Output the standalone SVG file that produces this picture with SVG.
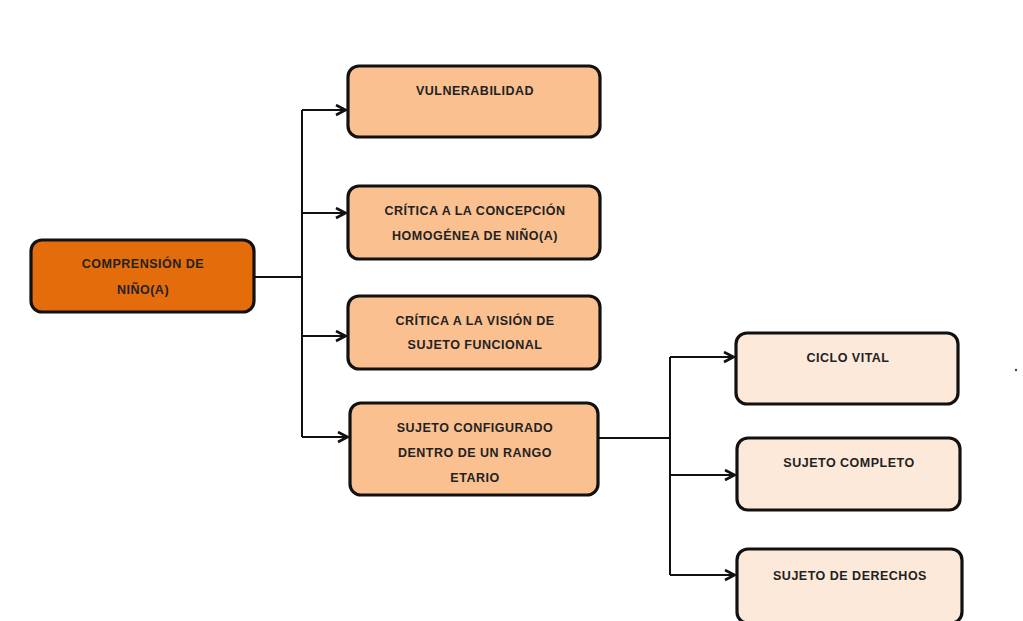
<svg xmlns="http://www.w3.org/2000/svg" width="1023" height="621" viewBox="0 0 1023 621">
  <style>
    .box { stroke: #111; stroke-width: 3.2; }
    .root { fill: #E46C0A; }
    .mid { fill: #FAC090; }
    .leaf { fill: #FDE9D9; }
    text { font-family: "Liberation Sans", Arial, sans-serif; font-weight: bold; font-size: 12.5px; letter-spacing: 0.5px; fill: #222; text-anchor: middle; }
    .conn { fill: none; stroke: #111; stroke-width: 2; }
  </style>
  <defs>
    <marker id="arrow" viewBox="0 0 13 13" refX="12" refY="6.5" markerWidth="13" markerHeight="13" markerUnits="userSpaceOnUse" orient="auto">
      <polyline points="2,1.5 11.5,6.5 2,11.5" fill="none" stroke="#111" stroke-width="2.6"/>
    </marker>
  </defs>
  <rect width="1023" height="621" fill="#fff"/>

  <g id="connectors">
    <path class="conn" d="M254,277 H302"/>
    <path class="conn" d="M302,110 V437"/>
    <path class="conn" d="M302,110 H346" marker-end="url(#arrow)"/>
    <path class="conn" d="M302,213 H346" marker-end="url(#arrow)"/>
    <path class="conn" d="M302,336 H346" marker-end="url(#arrow)"/>
    <path class="conn" d="M302,437 H348" marker-end="url(#arrow)"/>
    <path class="conn" d="M598,438 H670"/>
    <path class="conn" d="M670,357 V575"/>
    <path class="conn" d="M670,357 H734" marker-end="url(#arrow)"/>
    <path class="conn" d="M670,475 H735" marker-end="url(#arrow)"/>
    <path class="conn" d="M670,575 H735" marker-end="url(#arrow)"/>
  </g>

  <g id="root">
    <rect class="box root" x="31" y="240" width="223" height="72" rx="11"/>
    <text x="143" y="268">COMPRENSIÓN DE</text>
    <text x="143" y="294">NIÑO(A)</text>
  </g>

  <g id="vulnerabilidad">
    <rect class="box mid" x="348" y="66" width="252" height="71" rx="11"/>
    <text x="475" y="95">VULNERABILIDAD</text>
  </g>

  <g id="critica-concepcion">
    <rect class="box mid" x="348" y="186" width="252" height="73" rx="11"/>
    <text x="475" y="215">CRÍTICA A LA CONCEPCIÓN</text>
    <text x="475" y="240">HOMOGÉNEA DE NIÑO(A)</text>
  </g>

  <g id="critica-vision">
    <rect class="box mid" x="348" y="296" width="252" height="73" rx="11"/>
    <text x="475" y="325">CRÍTICA A LA VISIÓN DE</text>
    <text x="475" y="349">SUJETO FUNCIONAL</text>
  </g>

  <g id="sujeto-configurado">
    <rect class="box mid" x="350" y="403" width="248" height="92" rx="11"/>
    <text x="475" y="432">SUJETO CONFIGURADO</text>
    <text x="475" y="457">DENTRO DE UN RANGO</text>
    <text x="475" y="482">ETARIO</text>
  </g>

  <g id="ciclo-vital">
    <rect class="box leaf" x="736" y="333" width="222" height="71" rx="11"/>
    <text x="848" y="362">CICLO VITAL</text>
  </g>

  <g id="sujeto-completo">
    <rect class="box leaf" x="737" y="438" width="223" height="72" rx="11"/>
    <text x="849" y="467">SUJETO COMPLETO</text>
  </g>

  <g id="sujeto-derechos">
    <rect class="box leaf" x="737" y="549" width="225" height="74" rx="11"/>
    <text x="850" y="580">SUJETO DE DERECHOS</text>
  </g>

  <circle cx="1016" cy="370" r="1.2" fill="#444"/>
</svg>
